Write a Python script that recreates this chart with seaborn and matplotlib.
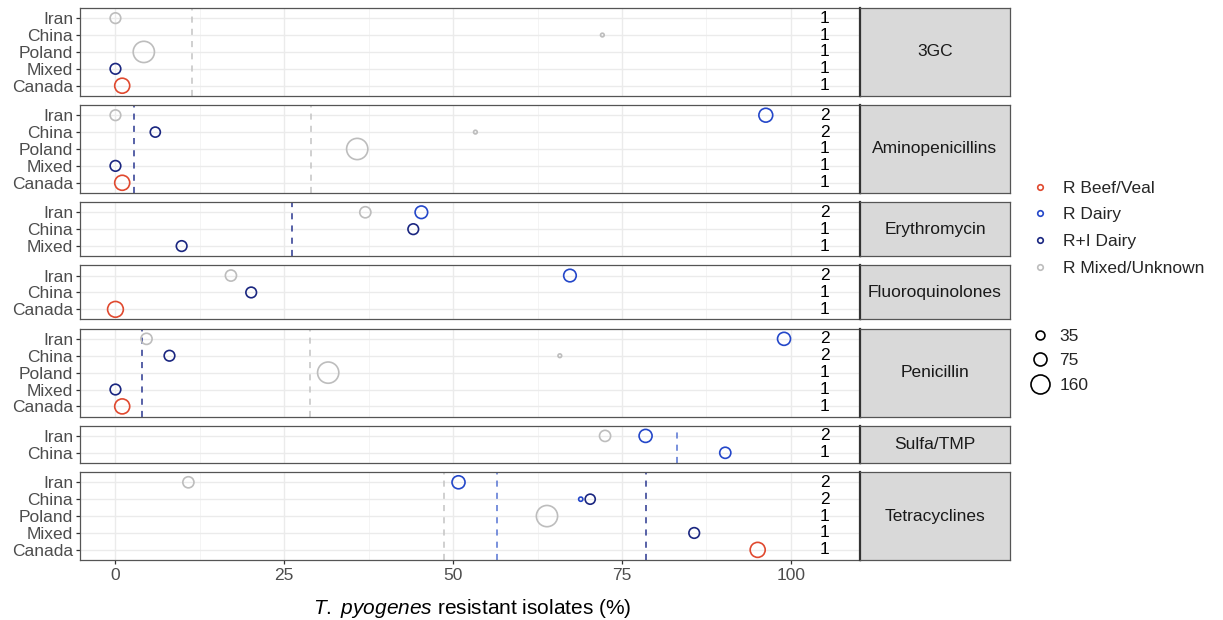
import numpy as np
import pandas as pd
import matplotlib.pyplot as plt
from matplotlib.lines import Line2D
import seaborn as sns

# facets and their row order
facets = ["3GC", "Aminopenicillins", "Erythromycin", "Fluoroquinolones",
          "Penicillin", "Sulfa/TMP", "Tetracyclines"]
facet_rows = {
    "3GC": ["Iran", "China", "Poland", "Mixed", "Canada"],
    "Aminopenicillins": ["Iran", "China", "Poland", "Mixed", "Canada"],
    "Erythromycin": ["Iran", "China", "Mixed"],
    "Fluoroquinolones": ["Iran", "China", "Canada"],
    "Penicillin": ["Iran", "China", "Poland", "Mixed", "Canada"],
    "Sulfa/TMP": ["Iran", "China"],
    "Tetracyclines": ["Iran", "China", "Poland", "Mixed", "Canada"],
}

groups = ["R Beef/Veal", "R Dairy", "R+I Dairy", "R Mixed/Unknown"]
colors = ["#E0492F", "#2447C9", "#1A2680", "#BDBDBD"]

# points
pt_facet = ["3GC"] * 5 + ["Aminopenicillins"] * 7 + ["Erythromycin"] * 4 \
    + ["Fluoroquinolones"] * 4 + ["Penicillin"] * 7 + ["Sulfa/TMP"] * 3 + ["Tetracyclines"] * 7
pt_country = ["Iran", "China", "Poland", "Mixed", "Canada",
              "Iran", "Iran", "China", "China", "Poland", "Mixed", "Canada",
              "Iran", "Iran", "China", "Mixed",
              "Iran", "Iran", "China", "Canada",
              "Iran", "Iran", "China", "China", "Poland", "Mixed", "Canada",
              "Iran", "Iran", "China",
              "Iran", "Iran", "China", "China", "Poland", "Mixed", "Canada"]
pt_group = ["R Mixed/Unknown", "R Mixed/Unknown", "R Mixed/Unknown", "R+I Dairy", "R Beef/Veal",
            "R Mixed/Unknown", "R Dairy", "R+I Dairy", "R Mixed/Unknown", "R Mixed/Unknown", "R+I Dairy", "R Beef/Veal",
            "R Mixed/Unknown", "R Dairy", "R+I Dairy", "R+I Dairy",
            "R Mixed/Unknown", "R Dairy", "R+I Dairy", "R Beef/Veal",
            "R Mixed/Unknown", "R Dairy", "R+I Dairy", "R Mixed/Unknown", "R Mixed/Unknown", "R+I Dairy", "R Beef/Veal",
            "R Mixed/Unknown", "R Dairy", "R Dairy",
            "R Mixed/Unknown", "R Dairy", "R Dairy", "R+I Dairy", "R Mixed/Unknown", "R+I Dairy", "R Beef/Veal"]
pt_pct = [0, 72.1, 4.2, 0, 1.0,
          0, 96.3, 5.9, 53.3, 35.8, 0, 1.0,
          37.0, 45.3, 44.1, 9.8,
          17.1, 67.3, 20.1, 0,
          4.6, 99.0, 8.0, 65.8, 31.5, 0, 1.0,
          72.5, 78.5, 90.3,
          10.8, 50.8, 68.9, 70.3, 63.9, 85.7, 95.1]
pt_n = [50, 6, 200, 50, 100,
        50, 85, 45, 6, 200, 50, 100,
        55, 70, 50, 50,
        55, 70, 50, 110,
        55, 75, 50, 6, 200, 50, 100,
        55, 75, 55,
        55, 75, 8, 45, 200, 50, 100]

# dashed mean lines
line_facet = ["3GC", "Aminopenicillins", "Aminopenicillins", "Erythromycin",
              "Penicillin", "Penicillin", "Sulfa/TMP",
              "Tetracyclines", "Tetracyclines", "Tetracyclines"]
line_group = ["R Mixed/Unknown", "R+I Dairy", "R Mixed/Unknown", "R+I Dairy",
              "R+I Dairy", "R Mixed/Unknown", "R Dairy",
              "R Mixed/Unknown", "R Dairy", "R+I Dairy"]
line_pct = [11.4, 2.8, 29.0, 26.2, 3.9, 28.8, 83.2, 48.6, 56.5, 78.5]

size_breaks = [35, 75, 160]

df = pd.DataFrame({"facet": pt_facet, "country": pt_country, "group": pt_group,
                   "pct": pt_pct, "n": pt_n})
lines = pd.DataFrame({"facet": line_facet, "group": line_group, "pct": line_pct})
col_of = dict(zip(groups, colors))
line_col = dict(zip(groups, ["#E0492F", "#5573D3", "#2A3790", "#C4C4C4"]))

sns.set_theme(style="white")
plt.rcParams["font.family"] = ["Liberation Sans", "DejaVu Sans"]
plt.rcParams["mathtext.fontset"] = "custom"
plt.rcParams["mathtext.it"] = "Liberation Sans:italic"
plt.rcParams["mathtext.rm"] = "Liberation Sans"

FS = 12.5
SMAX = 292.5  # point area for n = 250

fig = plt.figure(figsize=(12.23, 6.2), dpi=100)
ratios = [len(facet_rows[f]) + 0.2 for f in facets]
gs = fig.add_gridspec(len(facets), 2, height_ratios=ratios, width_ratios=[780, 150],
                      left=80/1223, right=1010/1223, top=1-8/620, bottom=1-560/620,
                      hspace=0.13, wspace=0)

for i, f in enumerate(facets):
    rows = facet_rows[f]
    ax = fig.add_subplot(gs[i, 0])
    sub = df[df["facet"] == f].copy()
    sub["ypos"] = sub["country"].map({c: k for k, c in enumerate(rows)})

    ax.set_xlim(-5.25, 110.25)
    ax.set_ylim(len(rows) - 0.4, -0.6)
    ax.set_xticks([0, 25, 50, 75, 100])
    ax.set_xticks([12.5, 37.5, 62.5, 87.5], minor=True)
    ax.set_yticks(range(len(rows)))
    ax.set_yticklabels(rows)
    ax.grid(which="major", color="#EBEBEB", lw=1.0)
    ax.grid(which="minor", axis="x", color="#F3F3F3", lw=0.6)
    ax.set_axisbelow(True)

    for _, r in lines[lines["facet"] == f].iterrows():
        ax.axvline(r["pct"], color=line_col[r["group"]], ls=(0, (4, 4)), lw=1.1, zorder=1)

    sns.scatterplot(data=sub, x="pct", y="ypos", hue="group", hue_order=groups,
                    palette=colors, size="n", sizes=(0, SMAX), size_norm=(0, 250),
                    legend=False, ax=ax, linewidth=1.2, zorder=3)
    coll = ax.collections[-1]
    coll.set_edgecolors(coll.get_facecolors())
    coll.set_facecolors("none")

    counts = sub.groupby("ypos").size()
    for y, c in counts.items():
        ax.text(105, y, str(c), ha="center", va="center", fontsize=FS, color="black")

    ax.set_xlabel("")
    ax.set_ylabel("")
    for s in ax.spines.values():
        s.set_color("#555555")
        s.set_linewidth(0.9)
    ax.tick_params(axis="y", which="major", left=True, length=3, width=0.9,
                   color="#333333", labelcolor="#4D4D4D", labelsize=FS, pad=2)
    if i < len(facets) - 1:
        ax.tick_params(axis="x", which="both", bottom=False, labelbottom=False)
    else:
        ax.tick_params(axis="x", which="major", bottom=True, length=3, width=0.9,
                       color="#333333", labelcolor="#4D4D4D", labelsize=FS, pad=3)
        ax.tick_params(axis="x", which="minor", bottom=False)

    sax = fig.add_subplot(gs[i, 1])
    sax.set_facecolor("#D9D9D9")
    sax.set_xticks([])
    sax.set_yticks([])
    for s in sax.spines.values():
        s.set_color("#555555")
        s.set_linewidth(0.9)
    sax.spines["left"].set_color("#333333")
    sax.spines["left"].set_linewidth(1.6)
    sax.text(0.5, 0.5, f, ha="center", va="center", fontsize=FS, color="#1A1A1A",
             transform=sax.transAxes)

fig.text(472/1223, 1 - 609/620, r"$\it{T.\ pyogenes}$ resistant isolates (%)",
         ha="center", va="center", fontsize=15, color="black")

# legends
col_handles = [Line2D([], [], marker="o", ls="", markerfacecolor="none",
                      markeredgecolor=c, markersize=4, mew=1.2) for c in colors]
leg1 = fig.legend(col_handles, groups, loc="upper left", frameon=False,
                  bbox_to_anchor=(1016/1223, 1 - 165/620), fontsize=FS,
                  handletextpad=0.8, labelspacing=0.66, handlelength=1.0)
size_handles = [Line2D([], [], marker="o", ls="", markerfacecolor="none",
                       markeredgecolor="black", markersize=np.sqrt(SMAX * n / 250), mew=1.2)
                for n in size_breaks]
leg2 = fig.legend(size_handles, [str(n) for n in size_breaks], loc="upper left", frameon=False,
                  bbox_to_anchor=(1016/1223, 1 - 313/620), fontsize=FS,
                  handletextpad=0.6, labelspacing=0.55, handlelength=1.0)

plt.savefig("out.png", dpi=100)
